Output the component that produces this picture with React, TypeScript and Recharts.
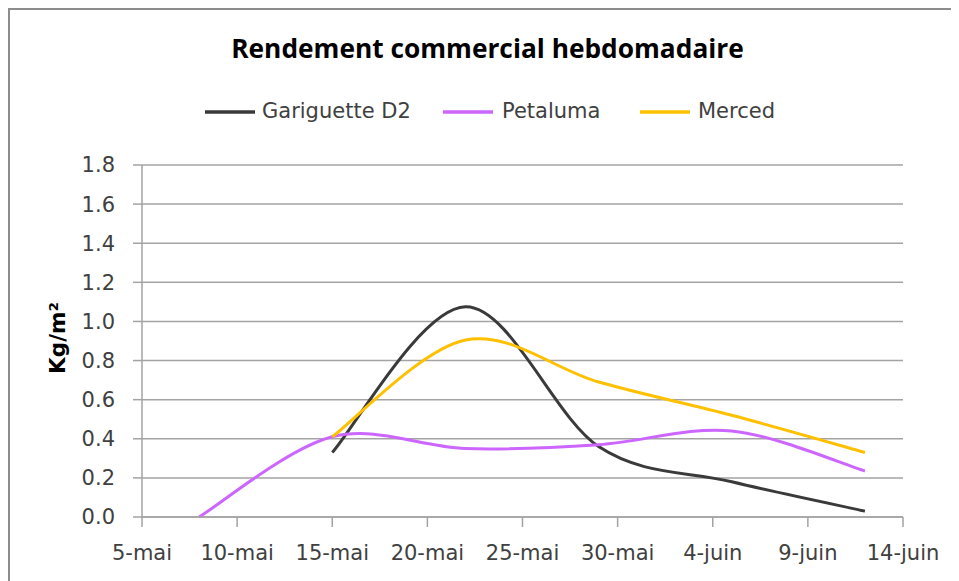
import React from 'react';
import { LineChart, Line, XAxis, YAxis, CartesianGrid, Legend } from 'recharts';

// Days counted from 5-mai
const days = [3, 10, 17, 24, 31, 38];
const dayLabels = ['8-mai', '15-mai', '22-mai', '29-mai', '5-juin', '12-juin'];
const gariguette: (number | null)[] = [null, 0.33, 1.075, 0.36, 0.18, 0.03];
const petaluma: (number | null)[] = [0, 0.41, 0.35, 0.37, 0.44, 0.235];
const merced: (number | null)[] = [null, 0.41, 0.905, 0.69, 0.52, 0.33];
const seriesNames = ['Gariguette D2', 'Petaluma', 'Merced'];

const xTicks = [0, 5, 10, 15, 20, 25, 30, 35, 40];
const xTickLabels = ['5-mai', '10-mai', '15-mai', '20-mai', '25-mai', '30-mai', '4-juin', '9-juin', '14-juin'];
const yTicks = [0, 0.2, 0.4, 0.6, 0.8, 1.0, 1.2, 1.4, 1.6, 1.8];

const data = days.map((d, i) => ({
  day: d,
  label: dayLabels[i],
  g: gariguette[i],
  p: petaluma[i],
  m: merced[i],
}));

// Excel-like smoothed line (Catmull-Rom style bezier)
const excelCurve = (context: any) => {
  let pts: [number, number][] = [];
  return {
    areaStart() {},
    areaEnd() {},
    lineStart() {
      pts = [];
    },
    point(x: number, y: number) {
      pts.push([+x, +y]);
    },
    lineEnd() {
      const n = pts.length;
      if (!n) return;
      context.moveTo(pts[0][0], pts[0][1]);
      if (n === 1) {
        context.lineTo(pts[0][0], pts[0][1]);
        return;
      }
      for (let i = 0; i < n - 1; i++) {
        const p0 = pts[Math.max(i - 1, 0)];
        const p1 = pts[i];
        const p2 = pts[i + 1];
        const p3 = pts[Math.min(i + 2, n - 1)];
        const c1x = p1[0] + (p2[0] - p0[0]) / 6;
        const c1y = p1[1] + (p2[1] - p0[1]) / 6;
        const c2x = p2[0] - (p3[0] - p1[0]) / 6;
        const c2y = p2[1] - (p3[1] - p1[1]) / 6;
        context.bezierCurveTo(c1x, c1y, c2x, c2y, p2[0], p2[1]);
      }
    },
  };
};

const FONT = '"DejaVu Sans", Verdana, sans-serif';
const GRID = '#a3a3a3';
const TEXT = '#404040';

const legendSwatchX = [195, 433, 630];
const legendTextX = [252, 492, 688];

const renderLegend = (props: any) => {
  const payload = [...(props.payload || [])].sort(
    (a: any, b: any) => seriesNames.indexOf(a.value) - seriesNames.indexOf(b.value)
  );
  return (
    <div style={{ position: 'relative', width: 949, height: 30 }}>
      {payload.map((entry: any, i: number) => (
        <React.Fragment key={i}>
          <svg
            width={50}
            height={6}
            style={{ position: 'absolute', left: legendSwatchX[i], top: 13 }}
          >
            <line x1={0} y1={3} x2={50} y2={3} stroke={entry.color} strokeWidth={3.5} />
          </svg>
          <span
            style={{
              position: 'absolute',
              left: legendTextX[i],
              top: 0,
              lineHeight: '30px',
              fontFamily: FONT,
              fontSize: 21,
              color: TEXT,
              whiteSpace: 'nowrap',
            }}
          >
            {entry.value}
          </span>
        </React.Fragment>
      ))}
    </div>
  );
};

const YLabel = () => (
  <text
    x={55}
    y={328}
    transform="rotate(-90 55 328)"
    textAnchor="middle"
    fontFamily={FONT}
    fontWeight="bold"
    fontSize={21.5}
    fill="#000"
  >
    Kg/m²
  </text>
);

export default function App() {
  return (
    <div
      style={{
        position: 'relative',
        width: 949,
        height: 571,
        borderTop: '2px solid #8c8c8c',
        borderLeft: '2px solid #8c8c8c',
        background: '#fff',
      }}
    >
      <style>{`html,body{overflow:hidden}`}</style>
      <svg
        width={949}
        height={80}
        style={{ position: 'absolute', left: 0, top: 0, pointerEvents: 'none' }}
      >
        <text
          x={477.5}
          y={48}
          textAnchor="middle"
          fontFamily='"Open Sans", sans-serif'
          fontWeight="bold"
          fontSize={26.3}
          fill="#000"
        >
          Rendement commercial hebdomadaire
        </text>
      </svg>
      <LineChart
        width={949}
        height={571}
        data={data}
        margin={{ top: 155, right: 56, left: 0, bottom: 24 }}
      >
        <CartesianGrid vertical={false} stroke={GRID} strokeWidth={1.5} />
        <XAxis
          dataKey="day"
          type="number"
          domain={[0, 40]}
          ticks={xTicks}
          interval={0}
          height={40}
          tickSize={10}
          tickMargin={18}
          tickFormatter={(v: number) => xTickLabels[xTicks.indexOf(v)] ?? ''}
          stroke={GRID}
          strokeWidth={1.5}
          tick={{ fontFamily: FONT, fontSize: 21, fill: TEXT }}
        />
        <YAxis
          type="number"
          domain={[0, 1.8]}
          ticks={yTicks}
          interval={0}
          width={132}
          tickSize={9}
          tickMargin={18}
          tickFormatter={(v: number) => v.toFixed(1)}
          stroke={GRID}
          strokeWidth={1.5}
          tick={{ fontFamily: FONT, fontSize: 21, fill: TEXT }}
          label={{ content: () => <YLabel /> }}
        />
        <Legend
          verticalAlign="middle"
          align="center"
          layout="horizontal"
          wrapperStyle={{ top: 86, left: 0, width: 949 }}
          content={renderLegend}
        />
        <Line
          type={excelCurve as any}
          dataKey="g"
          name="Gariguette D2"
          stroke="#3a3a3a"
          strokeWidth={3}
          dot={false}
          isAnimationActive={false}
        />
        <Line
          type={excelCurve as any}
          dataKey="p"
          name="Petaluma"
          stroke="#cc66ff"
          strokeWidth={3}
          dot={false}
          isAnimationActive={false}
        />
        <Line
          type={excelCurve as any}
          dataKey="m"
          name="Merced"
          stroke="#ffc000"
          strokeWidth={3}
          dot={false}
          isAnimationActive={false}
        />
      </LineChart>
    </div>
  );
}
